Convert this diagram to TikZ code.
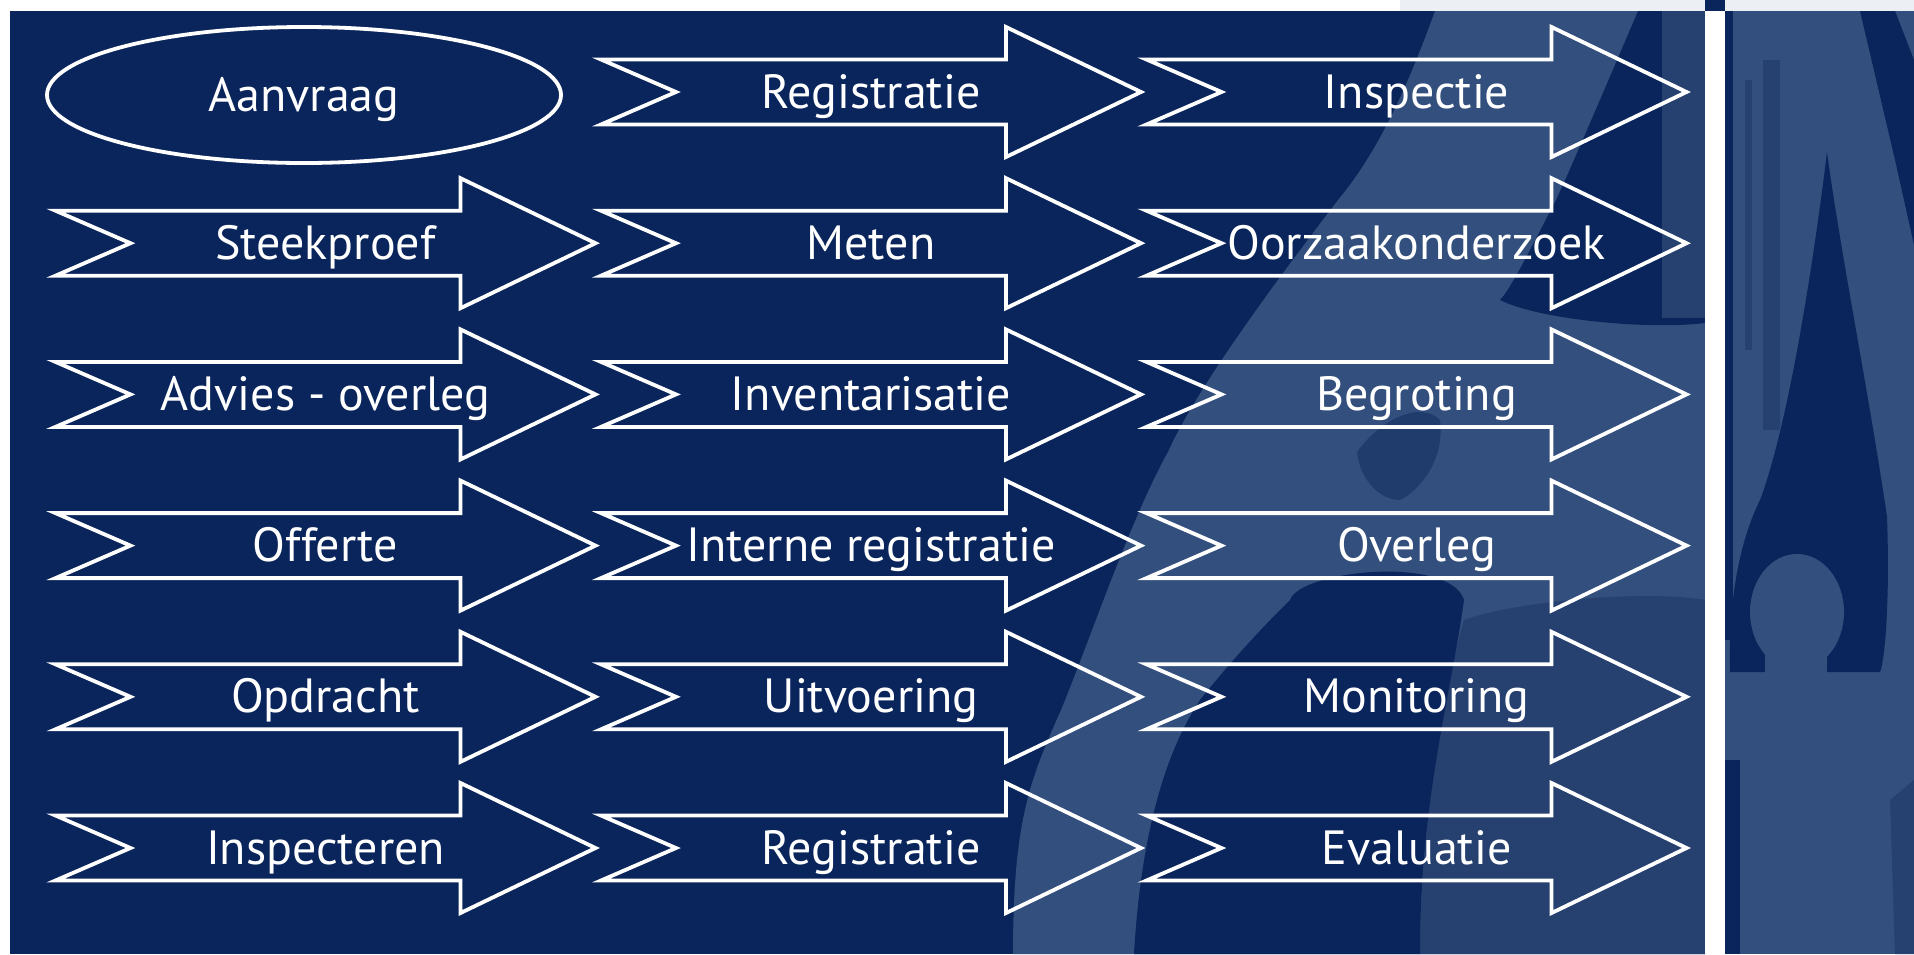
\documentclass[tikz,border=0pt]{standalone}
\usepackage{fontspec}
\setmainfont{PT Sans}
\usetikzlibrary{shapes.geometric}
\definecolor{navy}{RGB}{10,37,91}
\definecolor{photo}{RGB}{51,79,125}
\definecolor{photomid}{RGB}{38,64,112}
\definecolor{topgray}{RGB}{236,239,243}
\tikzset{
  arrowline/.style={draw=white, line width=1.9pt, line join=miter},
  lbl/.style={text=white, font=\fontsize{24}{28}\selectfont, anchor=base, inner sep=0pt},
  ovalbox/.style={draw=white, line width=1.9pt, ellipse, minimum width=257pt, minimum height=68pt, inner sep=0pt}
}
\newcommand\flowarrow[4]{%
  \draw[arrowline] (#2,#3-32.5) -- ++(405,0) -- ++(0,-32.5) -- ++(135,65) -- ++(-135,65) -- ++(0,-32.5) -- ++(-405,0) -- ++(75,-32.5) -- cycle;
  \node[lbl] (#1) at (#2+270,#3+16) {#4};}
\begin{document}
\begin{tikzpicture}[x=0.5pt,y=-0.5pt]
\useasboundingbox (0,0) rectangle (1914,954);
% page background
\fill[white] (0,0) rectangle (1914,954);
\fill[topgray] (1400,0) rectangle (1914,11);
\fill[navy] (10,11) rectangle (1914,954);
% blurred photo, left panel
\fill[photo] (1435,11) .. controls (1410,80) and (1380,150) .. (1338,200)
  .. controls (1300,250) and (1200,380) .. (1168,452)
  .. controls (1130,520) and (1090,640) .. (1061,710)
  .. controls (1030,780) and (1013,820) .. (1013,954)
  -- (1705,954) -- (1705,11) -- cycle;
\fill[navy] (1638,11) .. controls (1600,100) and (1570,170) .. (1556,200)
  .. controls (1530,250) and (1510,290) .. (1500,300)
  .. controls (1540,320) and (1650,330) .. (1705,323) -- (1705,11) -- cycle;
\fill[photomid] (1662,11) rectangle (1705,318);
\fill[navy, opacity=.45] (1357,452) .. controls (1380,420) and (1420,400) .. (1440,420)
  .. controls (1445,460) and (1420,490) .. (1400,500)
  .. controls (1380,500) and (1360,480) .. (1357,452) -- cycle;
\fill[photomid] (1464,620) .. controls (1520,600) and (1650,590) .. (1705,600)
  -- (1705,954) -- (1420,954) .. controls (1420,850) and (1440,700) .. (1464,620) -- cycle;
\fill[navy] (1290,600) .. controls (1300,570) and (1450,555) .. (1464,600)
  .. controls (1450,700) and (1420,800) .. (1420,954) -- (1134,954)
  .. controls (1140,850) and (1160,760) .. (1200,700)
  .. controls (1240,650) and (1270,620) .. (1290,600) -- cycle;
% blurred photo, right panel
\fill[photo] (1725,11) rectangle (1914,954);
\fill[navy] (1725,11) rectangle (1733,640);
\fill[navy] (1725,760) rectangle (1740,954);
\fill[photomid] (1763,60) rectangle (1780,430);
\fill[photomid] (1745,80) rectangle (1752,350);
\fill[navy] (1860,11) -- (1895,11) -- (1914,60) -- (1914,245) -- (1895,160) -- cycle;
\fill[photomid] (1890,800) -- (1914,780) -- (1914,954) -- (1895,954) -- cycle;
\fill[navy] (1827,152) .. controls (1840,250) and (1870,400) .. (1887,517)
  .. controls (1890,600) and (1885,660) .. (1880,672) -- (1730,672)
  .. controls (1728,600) and (1740,540) .. (1760,500)
  .. controls (1790,420) and (1815,250) .. (1827,152) -- cycle;
\fill[photo] (1797,612) ellipse [x radius=23.5pt, y radius=29pt];
\fill[photo] (1765,640) rectangle (1827,680);
% white separator bar
\fill[white] (1705,11) rectangle (1725,954);
\fill[navy] (1705,0) rectangle (1725,11);
% first node
\node[ovalbox] (aanvraagshape) at (304,95) {};
\node[lbl] (aanvraag) at (304,111) {Aanvraag};
% arrows
\flowarrow{registratieA}{601}{92}{Registratie}
\flowarrow{inspectie}{1146.5}{92}{Inspectie}
\flowarrow{steekproef}{55.5}{243.2}{Steekproef}
\flowarrow{meten}{601}{243.2}{Meten}
\flowarrow{oorzaak}{1146.5}{243.2}{Oorzaakonderzoek}
\flowarrow{advies}{55.5}{394.4}{Advies - overleg}
\flowarrow{inventarisatie}{601}{394.4}{Inventarisatie}
\flowarrow{begroting}{1146.5}{394.4}{Begroting}
\flowarrow{offerte}{55.5}{545.6}{Offerte}
\flowarrow{interne}{601}{545.6}{Interne registratie}
\flowarrow{overleg}{1146.5}{545.6}{Overleg}
\flowarrow{opdracht}{55.5}{696.8}{Opdracht}
\flowarrow{uitvoering}{601}{696.8}{Uitvoering}
\flowarrow{monitoring}{1146.5}{696.8}{Monitoring}
\flowarrow{inspecteren}{55.5}{848}{Inspecteren}
\flowarrow{registratieB}{601}{848}{Registratie}
\flowarrow{evaluatie}{1146.5}{848}{Evaluatie}
\end{tikzpicture}
\end{document}
